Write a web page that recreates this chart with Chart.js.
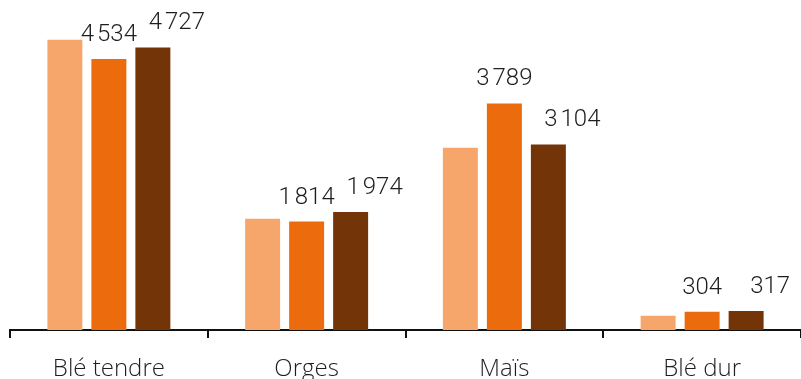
<!DOCTYPE html>
<html>
<head>
<meta charset="utf-8">
<script src="https://cdn.jsdelivr.net/npm/chart.js@4/dist/chart.umd.min.js"></script>
<style>
html,body{margin:0;padding:0;background:#fff;}
canvas{display:block;}
</style>
</head>
<body>
<canvas id="c" width="801" height="379"></canvas>
<script>
const categories = ["Blé tendre", "Orges", "Maïs", "Blé dur"];
const series1 = [4856, 1863, 3050, 240];
const series2 = [4534, 1814, 3789, 304];
const series3 = [4727, 1974, 3104, 317];
const labelledSeries = [1, 2];

const colors = ["#F7A66B", "#EC6C0D", "#733508"];
const labelShift = [0, 0, 24];

const fmt = v => v.toLocaleString('fr-FR');

const valueLabels = {
  id: 'valueLabels',
  afterDatasetsDraw(chart) {
    const ctx = chart.ctx;
    ctx.save();
    ctx.font = '300 24px Roboto';
    ctx.fillStyle = '#1e1e1e';
    ctx.textAlign = 'center';
    ctx.textBaseline = 'alphabetic';
    labelledSeries.forEach(di => {
      const meta = chart.getDatasetMeta(di);
      meta.data.forEach((bar, i) => {
        const v = chart.data.datasets[di].data[i];
        ctx.fillText(fmt(v), bar.x + labelShift[di], bar.y - 18);
      });
    });
    ctx.restore();
  }
};

new Chart(document.getElementById('c'), {
  type: 'bar',
  data: {
    labels: categories,
    datasets: [
      { data: series1, backgroundColor: colors[0] },
      { data: series2, backgroundColor: colors[1] },
      { data: series3, backgroundColor: colors[2] }
    ]
  },
  options: {
    responsive: false,
    animation: false,
    layout: { padding: { left: 10, right: 0, top: 0, bottom: 0 } },
    datasets: { bar: { categoryPercentage: 0.6675, barPercentage: 0.795 } },
    plugins: { legend: { display: false }, tooltip: { enabled: false } },
    scales: {
      y: { display: false, min: 0, max: 5520 },
      x: {
        offset: true,
        border: { display: true, color: '#111', width: 2 },
        grid: { offset: true, drawOnChartArea: false, drawTicks: true, tickLength: 8, color: '#111', lineWidth: 2 },
        ticks: { color: '#1e1e1e', font: { family: 'Open Sans', size: 24, weight: '300' }, padding: 17, maxRotation: 0 },
        afterFit(scale) { scale.height = 49; }
      }
    }
  },
  plugins: [valueLabels]
});
</script>
</body>
</html>
